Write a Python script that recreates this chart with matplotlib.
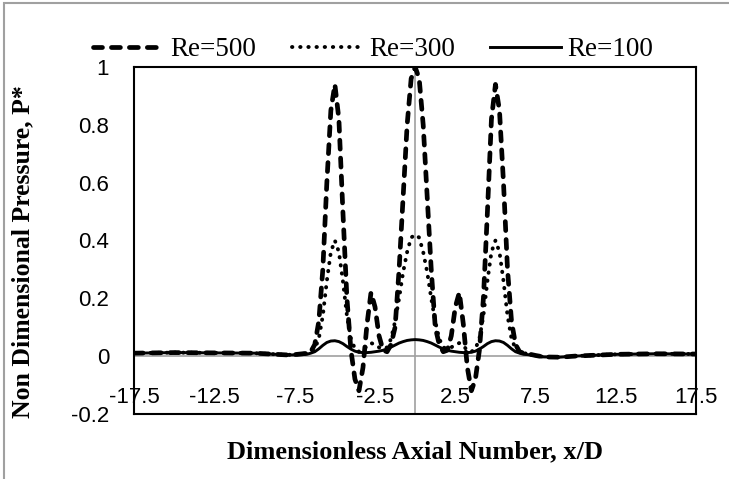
import matplotlib.pyplot as plt
from matplotlib.patches import Rectangle

# x/D positions
x = [-17.5, -15, -12.5, -10, -9, -8, -7.5,
     -7.0, -6.75, -6.5, -6.25, -6.0, -5.75, -5.5, -5.25, -5.0, -4.75, -4.5, -4.25,
     -4.0, -3.75, -3.5, -3.25, -3.0, -2.75, -2.5, -2.25, -2.0, -1.75, -1.5, -1.25,
     -1.0, -0.75, -0.5, -0.25, 0.0, 0.25, 0.5, 0.75, 1.0, 1.25, 1.5, 1.75,
     2.0, 2.25, 2.5, 2.75, 3.0, 3.25, 3.5, 3.75, 4.0, 4.25, 4.5, 4.75,
     5.0, 5.25, 5.5, 5.75, 6.0, 6.25, 6.5, 6.75, 7.0,
     7.5, 8, 9, 10, 12.5, 15, 17.5]

re500 = [0.010, 0.012, 0.011, 0.010, 0.007, 0.004, 0.005,
         0.008, 0.010, 0.015, 0.040, 0.120, 0.300, 0.600, 0.850, 0.940, 0.820, 0.500, 0.200,
         0.020, -0.080, -0.120, -0.040, 0.110, 0.220, 0.170, 0.070, 0.020, 0.015, 0.040, 0.100,
         0.300, 0.550, 0.800, 0.960, 1.000, 0.960, 0.800, 0.550, 0.300, 0.100, 0.040, 0.015,
         0.020, 0.070, 0.170, 0.220, 0.110, -0.040, -0.120, -0.080, 0.020, 0.200, 0.500, 0.820,
         0.940, 0.850, 0.600, 0.300, 0.120, 0.040, 0.015, 0.010, 0.008,
         0.002, -0.003, -0.004, 0.000, 0.006, 0.008, 0.007]

re300 = [0.010, 0.012, 0.011, 0.010, 0.007, 0.004, 0.005,
         0.008, 0.010, 0.012, 0.025, 0.060, 0.140, 0.260, 0.360, 0.400, 0.360, 0.260, 0.140,
         0.060, 0.025, 0.015, 0.020, 0.035, 0.045, 0.040, 0.030, 0.025, 0.030, 0.060, 0.120,
         0.200, 0.290, 0.360, 0.410, 0.420, 0.410, 0.360, 0.290, 0.200, 0.120, 0.060, 0.030,
         0.025, 0.030, 0.040, 0.045, 0.035, 0.020, 0.015, 0.025, 0.060, 0.140, 0.260, 0.360,
         0.400, 0.360, 0.260, 0.140, 0.060, 0.025, 0.012, 0.010, 0.008,
         0.002, -0.003, -0.004, 0.000, 0.006, 0.008, 0.007]

re100 = [0.010, 0.012, 0.011, 0.010, 0.007, 0.004, 0.004,
         0.005, 0.006, 0.010, 0.015, 0.025, 0.037, 0.047, 0.052, 0.053, 0.050, 0.043, 0.033,
         0.024, 0.017, 0.013, 0.012, 0.012, 0.013, 0.015, 0.017, 0.020, 0.025, 0.031, 0.038,
         0.045, 0.050, 0.054, 0.056, 0.057, 0.056, 0.054, 0.050, 0.045, 0.038, 0.031, 0.025,
         0.020, 0.017, 0.015, 0.013, 0.012, 0.012, 0.013, 0.017, 0.024, 0.033, 0.043, 0.050,
         0.053, 0.052, 0.047, 0.037, 0.025, 0.015, 0.010, 0.006, 0.005,
         0.001, -0.003, -0.004, 0.000, 0.006, 0.008, 0.007]

x_ticks = [-17.5, -12.5, -7.5, -2.5, 2.5, 7.5, 12.5, 17.5]
y_ticks = [-0.2, 0, 0.2, 0.4, 0.6, 0.8, 1]
y_labels = ['-0.2', '0', '0.2', '0.4', '0.6', '0.8', '1']

fig = plt.figure(figsize=(7.29, 4.79), dpi=100)
ax = fig.add_axes([0.184, 0.136, 0.771, 0.724])

ax.axhline(0, color='#a0a0a0', lw=1.2, zorder=1)
ax.axvline(0, color='#a0a0a0', lw=1.2, zorder=1)

ax.plot(x, re500, color='black', lw=3.4, linestyle=(0, (1.9, 1.9)),
        dash_capstyle='round', label='Re=500', zorder=3)
ax.plot(x, re300, color='black', lw=2.8, linestyle=(0, (0.1, 2.0)),
        dash_capstyle='round', label='Re=300', zorder=3)
ax.plot(x, re100, color='black', lw=2.1, label='Re=100', zorder=3)

ax.set_xlim(-17.5, 17.5)
ax.set_ylim(-0.2, 1)
ax.set_yticks(y_ticks)
ax.set_yticklabels(y_labels, family='Liberation Sans', fontsize=16)
ax.set_xticks(x_ticks)
ax.set_xticklabels([str(t) for t in x_ticks], family='Liberation Sans', fontsize=16)
ax.tick_params(axis='x', length=0, pad=-19)
ax.tick_params(axis='y', length=0, pad=18)
for s in ax.spines.values():
    s.set_linewidth(1.5)

ax.set_xlabel('Dimensionless Axial Number, x/D', family='Liberation Serif',
              fontweight='bold', fontsize=19)
ax.set_ylabel('Non Dimensional Pressure, P*', family='Liberation Serif',
              fontweight='bold', fontsize=18.5)
ax.xaxis.set_label_coords(0.5, -0.075)
ax.yaxis.set_label_coords(-0.178, 0.467)

fig.legend(loc='center', bbox_to_anchor=(0.512, 0.896), ncol=3, frameon=False,
           handlelength=2.6, columnspacing=1.3, handletextpad=0.26,
           prop={'family': 'Liberation Serif', 'size': 19.5})

# outer chart frame
fig.patches.append(Rectangle((0.005, -0.1), 1.2, 1.094, transform=fig.transFigure,
                             fill=False, edgecolor='#a0a0a0', lw=1.5))

fig.savefig('out.png', dpi=100)
